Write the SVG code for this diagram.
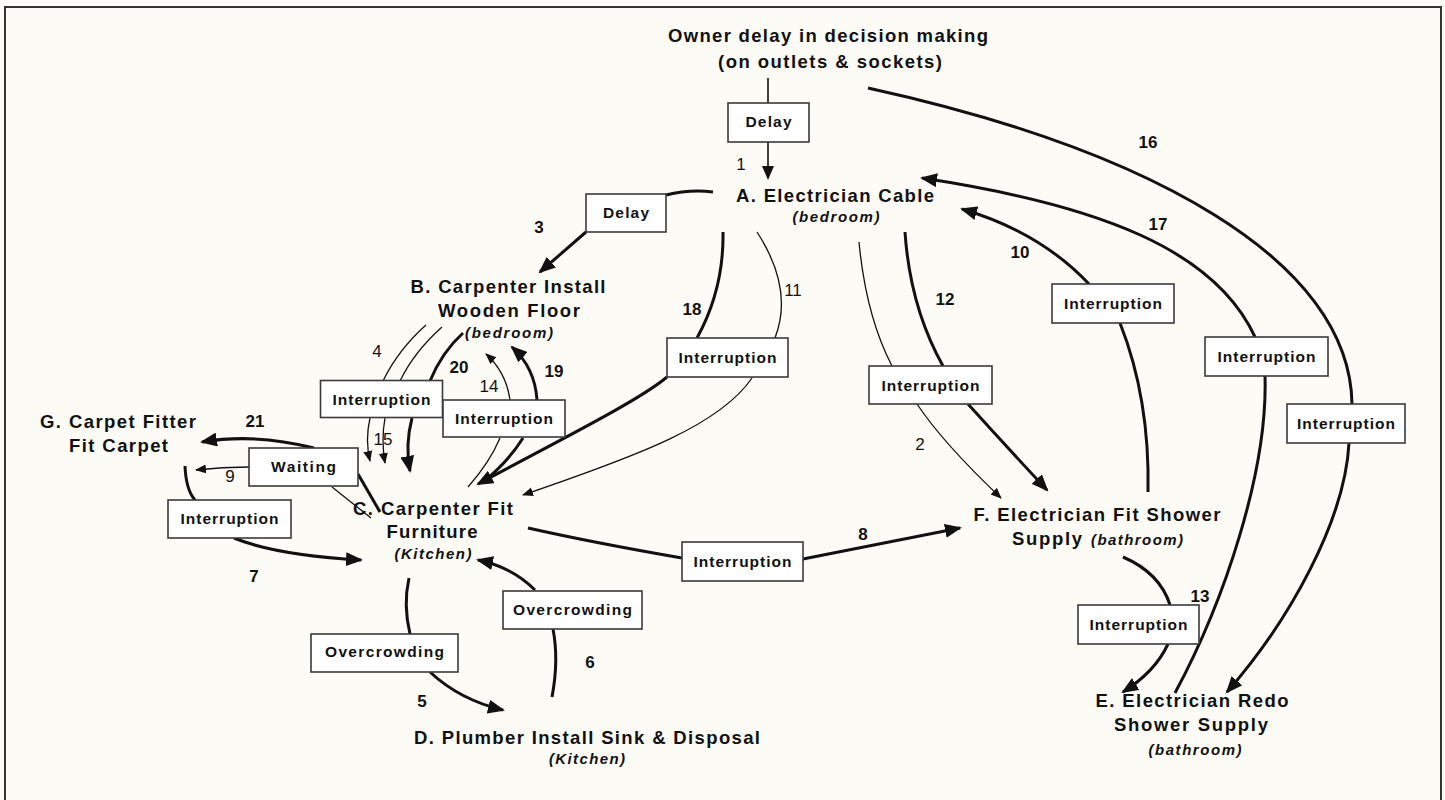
<svg xmlns="http://www.w3.org/2000/svg" width="1445" height="800" viewBox="0 0 1445 800">
<style>
.n{font-family:"Liberation Sans",Arial,Helvetica,sans-serif;font-weight:bold;font-size:18.5px;fill:#111;text-anchor:middle}
.s{font-family:"Liberation Sans",Arial,Helvetica,sans-serif;font-weight:bold;font-style:italic;font-size:15px;fill:#111;text-anchor:middle}
.bx rect{fill:#ffffff;stroke:#3a3a3a;stroke-width:1.6}
.bx text{font-family:"Liberation Sans",Arial,Helvetica,sans-serif;font-weight:bold;font-size:15.5px;fill:#111;text-anchor:middle}
.nb{font-family:"Liberation Sans",Arial,Helvetica,sans-serif;font-weight:bold;font-size:17px;fill:#111;text-anchor:middle}
.nr{font-family:"Liberation Sans",Arial,Helvetica,sans-serif;font-weight:normal;font-size:17px;fill:#111;text-anchor:middle}
.tk{fill:none;stroke:#111;stroke-width:3}
.tn{fill:none;stroke:#111;stroke-width:1.3}
.md{fill:none;stroke:#111;stroke-width:1.6}
</style>
<defs>
<marker id="ab" markerWidth="18" markerHeight="14" refX="15" refY="7" orient="auto" markerUnits="userSpaceOnUse"><path d="M0,0 L17,7 L0,14 Z" fill="#111"/></marker>
<marker id="am" markerWidth="14" markerHeight="12" refX="12" refY="6" orient="auto" markerUnits="userSpaceOnUse"><path d="M0,0 L14,6 L0,12 Z" fill="#111"/></marker>
<marker id="as" markerWidth="12" markerHeight="10" refX="10" refY="4.5" orient="auto" markerUnits="userSpaceOnUse"><path d="M0,0 L11,4.5 L0,9 Z" fill="#111"/></marker>
</defs>
<rect x="0" y="0" width="1445" height="800" fill="#fcfbf6"/>
<rect x="5" y="7" width="1436" height="820" fill="none" stroke="#333" stroke-width="2"/>

<g id="connectors">
<!-- 1 -->
<path class="md" d="M768,78 L768,103"/>
<path class="md" d="M768,142 L768,178" marker-end="url(#am)"/>
<!-- 3 -->
<path class="tk" d="M713,192 Q690,189 666,195"/>
<path class="tk" d="M586,232 L540,272" marker-end="url(#ab)"/>
<!-- 4, 15, 20 -->
<path class="tn" d="M426,325 Q398,350 383,381"/>
<path class="tn" d="M442,327 Q414,352 400,381"/>
<path class="tk" d="M463,333 Q442,352 430,381"/>
<path class="tn" d="M370,418 Q365,440 370,461" marker-end="url(#as)"/>
<path class="tn" d="M385,418 Q381,440 385,463" marker-end="url(#as)"/>
<path class="tk" d="M412,418 Q405,445 410,471" marker-end="url(#ab)"/>
<!-- 14, 19 -->
<path class="tn" d="M510,400 Q506,372 486,354" marker-end="url(#as)"/>
<path class="tk" d="M537,400 Q535,368 512,347" marker-end="url(#ab)"/>
<path class="tn" d="M500,438 Q490,462 468,487"/>
<path class="tk" d="M523,438 Q508,462 482,483"/>
<!-- 18 -->
<path class="tk" d="M723,232 Q724,289 697,338"/>
<path class="tk" d="M667,377 C640,400 560,440 478,484" marker-end="url(#ab)"/>
<!-- 11 -->
<path class="tn" d="M757,232 Q794,289 775,338"/>
<path class="tn" d="M752,378 C720,425 640,455 523,495" marker-end="url(#as)"/>
<!-- 21 -->
<path class="tk" d="M380,512 L358,474"/>
<path class="tk" d="M314,448 Q255,433 202,442" marker-end="url(#ab)"/>
<!-- 9 -->
<path class="tn" d="M371,518 L332,487"/>
<path class="tn" d="M249,467 Q222,467 196,470" marker-end="url(#as)"/>
<!-- 7 -->
<path class="tk" d="M185,466 Q186,490 195,500"/>
<path class="tk" d="M234,538 Q275,555 361,560" marker-end="url(#ab)"/>
<!-- 5 -->
<path class="tk" d="M409,578 Q403,605 410,634"/>
<path class="tk" d="M430,672 Q460,700 503,710" marker-end="url(#ab)"/>
<!-- 6 -->
<path class="tk" d="M552,697 Q559,660 553,629"/>
<path class="tk" d="M535,590 Q512,567 478,560" marker-end="url(#ab)"/>
<!-- 8 -->
<path class="tk" d="M528,528 Q595,543 682,558"/>
<path class="tk" d="M803,559 Q884,543 960,528" marker-end="url(#ab)"/>
<!-- 2 -->
<path class="tn" d="M859,242 Q866,316 892,366"/>
<path class="tn" d="M917,404 Q943,443 1001,498" marker-end="url(#as)"/>
<!-- 12 -->
<path class="tk" d="M905,232 Q910,307 943,366"/>
<path class="tk" d="M968,404 Q1005,445 1047,490" marker-end="url(#ab)"/>
<!-- 10 -->
<path class="tk" d="M1148,492 Q1150,399 1120,323"/>
<path class="tk" d="M1089,284 Q1040,232 962,209" marker-end="url(#ab)"/>
<!-- 17 -->
<path class="tk" d="M1175,693 C1225,600 1268,470 1265,376"/>
<path class="tk" d="M1255,337 C1215,250 1100,205 922,178" marker-end="url(#ab)"/>
<!-- 16 -->
<path class="tk" d="M868,88 C1150,150 1350,260 1352,404"/>
<path class="tk" d="M1349,443 C1345,520 1290,620 1227,692" marker-end="url(#ab)"/>
<!-- 13 -->
<path class="tk" d="M1123,557 Q1160,573 1170,605"/>
<path class="tk" d="M1168,644 Q1155,672 1123,692" marker-end="url(#ab)"/>
</g>

<g id="edge-labels">
<g class="bx" id="box-delay-1"><rect x="728" y="103" width="81" height="39"/><text x="768.5" y="127" textLength="46">Delay</text></g>
<g class="bx" id="box-delay-3"><rect x="586" y="194" width="80" height="38"/><text x="626" y="218" textLength="46">Delay</text></g>
<g class="bx" id="box-int-b-left"><rect x="320.5" y="380.5" width="122" height="37"/><text x="381.5" y="405" textLength="98">Interruption</text></g>
<g class="bx" id="box-int-b-right"><rect x="443" y="400" width="122" height="37"/><text x="504" y="424" textLength="98">Interruption</text></g>
<g class="bx" id="box-int-18"><rect x="667" y="338" width="121" height="39"/><text x="727.5" y="363" textLength="98">Interruption</text></g>
<g class="bx" id="box-waiting"><rect x="249" y="448" width="109" height="38"/><text x="303.5" y="472" textLength="65">Waiting</text></g>
<g class="bx" id="box-int-7"><rect x="168" y="500" width="123" height="38"/><text x="229.5" y="524" textLength="98">Interruption</text></g>
<g class="bx" id="box-int-8"><rect x="682" y="542" width="121" height="39"/><text x="742.5" y="567" textLength="98">Interruption</text></g>
<g class="bx" id="box-over-5"><rect x="311" y="634" width="147" height="38"/><text x="384.5" y="657" textLength="119">Overcrowding</text></g>
<g class="bx" id="box-over-6"><rect x="503" y="591" width="139" height="38"/><text x="572.5" y="615" textLength="119">Overcrowding</text></g>
<g class="bx" id="box-int-12"><rect x="869" y="366" width="123" height="38"/><text x="930.5" y="391" textLength="98">Interruption</text></g>
<g class="bx" id="box-int-10"><rect x="1052" y="284" width="122" height="39"/><text x="1113" y="309" textLength="98">Interruption</text></g>
<g class="bx" id="box-int-17"><rect x="1205" y="337" width="123" height="39"/><text x="1266.5" y="362" textLength="98">Interruption</text></g>
<g class="bx" id="box-int-16"><rect x="1287" y="404" width="118" height="39"/><text x="1346" y="429" textLength="98">Interruption</text></g>
<g class="bx" id="box-int-13"><rect x="1078" y="605" width="121" height="39"/><text x="1138.5" y="630" textLength="98">Interruption</text></g>

<text class="nr" x="741" y="170">1</text>
<text class="nr" x="920" y="450">2</text>
<text class="nb" x="539" y="233">3</text>
<text class="nr" x="377" y="357">4</text>
<text class="nb" x="422" y="707">5</text>
<text class="nb" x="590" y="668">6</text>
<text class="nb" x="254" y="582">7</text>
<text class="nb" x="863" y="540">8</text>
<text class="nr" x="230" y="482">9</text>
<text class="nb" x="1020" y="258">10</text>
<text class="nr" x="793" y="296">11</text>
<text class="nb" x="945" y="305">12</text>
<text class="nb" x="1200" y="602">13</text>
<text class="nr" x="489" y="392">14</text>
<text class="nr" x="383" y="445">15</text>
<text class="nb" x="1148" y="148">16</text>
<text class="nb" x="1158" y="230">17</text>
<text class="nb" x="692" y="315">18</text>
<text class="nb" x="554" y="377">19</text>
<text class="nb" x="459" y="373">20</text>
<text class="nb" x="255" y="427">21</text>
</g>

<g id="node-owner">
<text class="n" x="828" y="42" textLength="320">Owner delay in decision making</text>
<text class="n" x="830" y="68" textLength="224">(on outlets &amp; sockets)</text>
</g>
<g id="node-a">
<text class="n" x="835" y="202" textLength="198">A. Electrician Cable</text>
<text class="s" x="836" y="222" textLength="87">(bedroom)</text>
</g>
<g id="node-b">
<text class="n" x="508" y="293" textLength="195">B. Carpenter Install</text>
<text class="n" x="509" y="317" textLength="142">Wooden Floor</text>
<text class="s" x="509" y="338" textLength="88">(bedroom)</text>
</g>
<g id="node-c">
<text class="n" x="433" y="515" textLength="160">C. Carpenter Fit</text>
<text class="n" x="432" y="538" textLength="91">Furniture</text>
<text class="s" x="433" y="559" textLength="77">(Kitchen)</text>
</g>
<g id="node-d">
<text class="n" x="587" y="744" textLength="346">D. Plumber Install Sink &amp; Disposal</text>
<text class="s" x="587" y="764" textLength="76">(Kitchen)</text>
</g>
<g id="node-e">
<text class="n" x="1192" y="707" textLength="193">E. Electrician Redo</text>
<text class="n" x="1191" y="731" textLength="154">Shower Supply</text>
<text class="s" x="1195" y="755" textLength="93">(bathroom)</text>
</g>
<g id="node-f">
<text class="n" x="1097" y="521" textLength="247">F. Electrician Fit Shower</text>
<text class="n" x="1047" y="545" textLength="70">Supply</text>
<text class="s" x="1137" y="545" textLength="92">(bathroom)</text>
</g>
<g id="node-g">
<text class="n" x="118" y="428" textLength="156">G. Carpet Fitter</text>
<text class="n" x="118.5" y="452" textLength="99">Fit Carpet</text>
</g>
</svg>
